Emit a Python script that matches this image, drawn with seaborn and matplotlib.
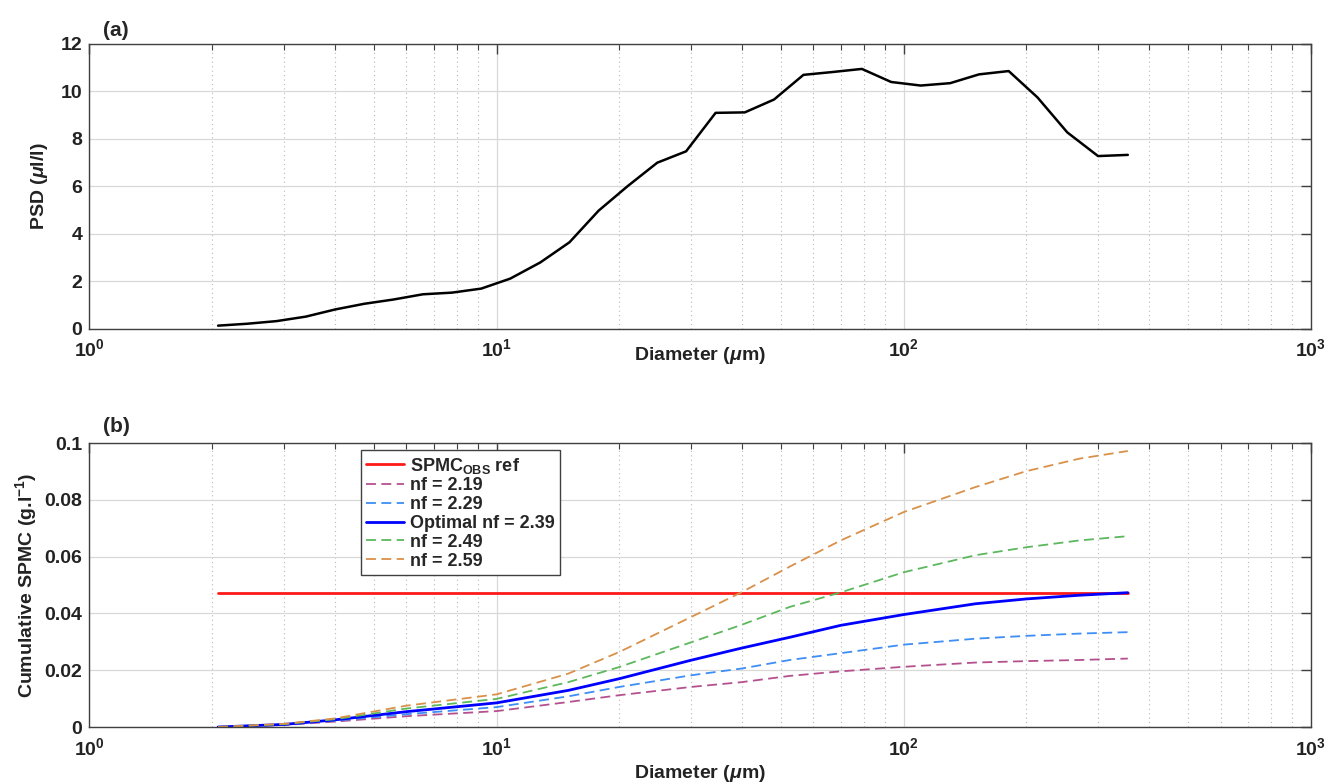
import numpy as np
import pandas as pd
import seaborn as sns
import matplotlib.pyplot as plt
from matplotlib.ticker import FuncFormatter, LogLocator, NullFormatter

# (a) particle size distribution
psd_diam = [2.07, 2.44, 2.88, 3.40, 4.01, 4.73, 5.58, 6.59, 7.77, 9.17,
            10.8, 12.8, 15.1, 17.8, 21.0, 24.8, 29.2, 34.5, 40.7, 48.0,
            56.7, 66.9, 78.9, 93.1, 110, 130, 153, 181, 213, 252, 300, 355]
psd_vals = [0.14, 0.22, 0.33, 0.52, 0.82, 1.06, 1.24, 1.46, 1.53, 1.70,
            2.12, 2.80, 3.65, 4.98, 6.02, 7.00, 7.48, 9.10, 9.12, 9.66,
            10.70, 10.82, 10.95, 10.40, 10.25, 10.35, 10.72, 10.86, 9.75, 8.28,
            7.28, 7.33]

# (b) cumulative SPMC
cum_diam = [2.07, 3, 4, 6, 10, 15, 20, 30, 40, 52.5, 70, 100, 150, 200, 270, 355]
spmc_ref_x = [2.07, 355]
spmc_ref_y = [0.0473, 0.0473]
nf_219 = [0, 0.0007, 0.0019, 0.0038, 0.0056, 0.0088, 0.0112, 0.0141, 0.0158,
          0.0180, 0.0196, 0.0212, 0.0227, 0.0232, 0.0236, 0.0241]
nf_229 = [0, 0.0008, 0.0022, 0.0045, 0.0070, 0.0108, 0.0141, 0.0182, 0.0206,
          0.0236, 0.0260, 0.0290, 0.0311, 0.0321, 0.0329, 0.0334]
nf_239 = [0, 0.0009, 0.0025, 0.0054, 0.0085, 0.0129, 0.0170, 0.0235, 0.0278,
          0.0316, 0.0358, 0.0396, 0.0434, 0.0451, 0.0464, 0.0473]
nf_249 = [0, 0.0010, 0.0027, 0.0065, 0.0099, 0.0158, 0.0211, 0.0298, 0.0360,
          0.0423, 0.0474, 0.0545, 0.0605, 0.0633, 0.0657, 0.0672]
nf_259 = [0, 0.0011, 0.0030, 0.0075, 0.0115, 0.0188, 0.0264, 0.0387, 0.0475,
          0.0565, 0.0657, 0.0757, 0.0845, 0.0901, 0.0945, 0.0972]

sns.set_style("white")
plt.rcParams['font.family'] = ['Liberation Sans', 'DejaVu Sans']
plt.rcParams['font.weight'] = 'bold'
plt.rcParams['mathtext.fontset'] = 'custom'
plt.rcParams['mathtext.rm'] = 'Liberation Sans:bold'
plt.rcParams['mathtext.bf'] = 'Liberation Sans:bold'
plt.rcParams['mathtext.it'] = 'Liberation Sans:italic:bold'

fig = plt.figure(figsize=(13.25, 7.84), dpi=100)
ax1 = fig.add_axes([0.0675, 0.5804, 0.9219, 0.3635])
ax2 = fig.add_axes([0.0675, 0.0727, 0.9219, 0.3622])

dash = (0, (5.5, 3))

sns.lineplot(x=psd_diam, y=psd_vals, ax=ax1, color='black', lw=1.8)

curves = [
    (spmc_ref_x, spmc_ref_y, '#ff1a1a', '-', 2.0, r'SPMC$_{\mathrm{OBS}}$ ref'),
    (cum_diam, nf_219, '#b5508f', dash, 1.3, 'nf = 2.19'),
    (cum_diam, nf_229, '#3d8ef5', dash, 1.3, 'nf = 2.29'),
    (cum_diam, nf_239, '#0000ff', '-', 2.0, 'Optimal nf = 2.39'),
    (cum_diam, nf_249, '#5cb85c', dash, 1.3, 'nf = 2.49'),
    (cum_diam, nf_259, '#d9914a', dash, 1.3, 'nf = 2.59'),
]
for xs, ys, c, ls, lw, lab in curves:
    sns.lineplot(x=xs, y=ys, ax=ax2, color=c, linestyle=ls, lw=lw, label=lab)

for ax, ymax, yticks in [(ax1, 12, np.arange(0, 13, 2)),
                         (ax2, 0.1, [0, 0.02, 0.04, 0.06, 0.08, 0.1])]:
    ax.set_xscale('log')
    ax.set_xlim(1, 1000)
    ax.set_ylim(0, ymax)
    ax.set_yticks(yticks)
    ax.yaxis.set_major_formatter(FuncFormatter(lambda v, p: '%g' % v))
    ax.xaxis.set_minor_locator(LogLocator(base=10, subs=np.arange(2, 10)))
    ax.xaxis.set_minor_formatter(NullFormatter())
    ax.grid(which='major', color='#d8d8d8', lw=0.9, ls='-')
    ax.grid(which='minor', axis='x', color='#b8b8b8', lw=0.8, ls=(0, (1, 3)))
    ax.tick_params(which='both', direction='in', top=True, right=True,
                   colors='#404040', labelcolor='#222222', labelsize=14)
    ax.tick_params(which='major', length=7, width=1)
    ax.tick_params(which='minor', length=4, width=0.8)
    ax.tick_params(axis='x', which='major', pad=7)
    ax.tick_params(axis='y', which='major', pad=5)
    for s in ax.spines.values():
        s.set_color('#404040')
        s.set_linewidth(1.0)
    ax.set_axisbelow(True)

ax1.set_xlabel(r'Diameter ($\mu$m)', fontsize=14, fontweight='bold',
               color='#222222', labelpad=-11)
ax2.set_xlabel(r'Diameter ($\mu$m)', fontsize=14, fontweight='bold',
               color='#222222', labelpad=3)
ax1.set_ylabel(r'PSD ($\mu$l/l)', fontsize=14, fontweight='bold',
               color='#222222', labelpad=8)
ax2.set_ylabel(r'Cumulative SPMC (g.l$^{-1}$)', fontsize=14, fontweight='bold',
               color='#222222', labelpad=4)

leg = ax2.legend(loc='upper left', bbox_to_anchor=(0.222, 0.975),
                 borderaxespad=0, handlelength=2.1,
                 labelspacing=0.1, borderpad=0.3, handletextpad=0.35,
                 fancybox=False, framealpha=1, edgecolor='#404040',
                 prop={'weight': 'bold', 'size': 13})
leg.get_frame().set_linewidth(1.0)

fig.text(103 / 1325, 1 - 30 / 784, '(a)', fontsize=15, fontweight='bold',
         va='center', ha='left')
fig.text(103 / 1325, 1 - 426 / 784, '(b)', fontsize=15, fontweight='bold',
         va='center', ha='left')

fig.savefig('out.png', dpi=100)
